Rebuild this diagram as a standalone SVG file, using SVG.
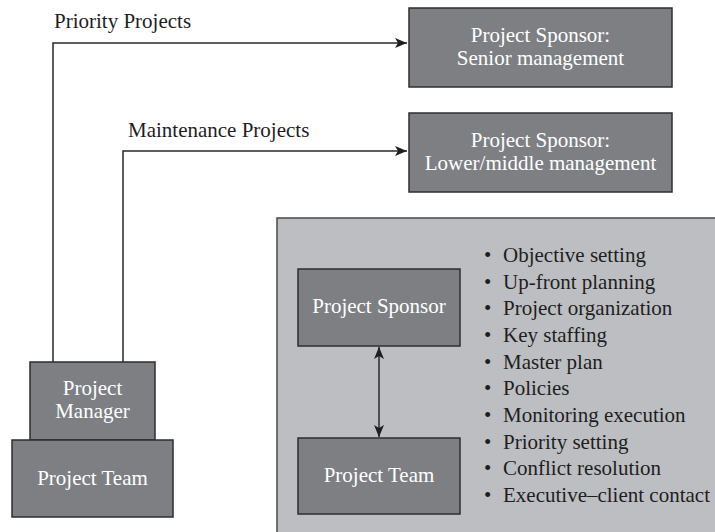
<svg xmlns="http://www.w3.org/2000/svg" width="715" height="532" viewBox="0 0 715 532">
<style>
.box{fill:#7e7f83;stroke:#2e2e30;stroke-width:1.5}
.panel{fill:#bdbec1;stroke:#4a4a4c;stroke-width:1.5}
.wt{font-family:"Liberation Serif","Times New Roman",serif;font-size:21px;fill:#ffffff;text-anchor:middle}
.bt{font-family:"Liberation Serif","Times New Roman",serif;font-size:21px;fill:#1e1e1e}
.ln{fill:none;stroke:#2a2a2a;stroke-width:1.5}
</style>
<defs>
<marker id="ah" viewBox="0 0 12 10" refX="12" refY="5" markerWidth="12" markerHeight="10" markerUnits="userSpaceOnUse" orient="auto-start-reverse">
<path d="M0,0 L12,5 L0,10 L3,5 Z" fill="#1e1e1e"/>
</marker>
</defs>
<rect x="0" y="0" width="715" height="532" fill="#ffffff"/>
<g id="panel">
<rect class="panel" x="277" y="218" width="445" height="322"/>
</g>
<g id="connectors">
<path class="ln" d="M53,362 V43 H407" marker-end="url(#ah)"/>
<path class="ln" d="M123,362 V151 H407" marker-end="url(#ah)"/>
<path class="ln" d="M379,347 V437" marker-start="url(#ah)" marker-end="url(#ah)"/>
</g>
<g id="label-priority"><text class="bt" x="54" y="28">Priority Projects</text></g>
<g id="label-maintenance"><text class="bt" x="128" y="137">Maintenance Projects</text></g>
<g id="sponsor-senior">
<rect class="box" x="409" y="8" width="263" height="79"/>
<text class="wt" x="540.5" y="42">Project Sponsor:</text>
<text class="wt" x="540.5" y="65">Senior management</text>
</g>
<g id="sponsor-lower">
<rect class="box" x="409" y="113" width="263" height="79"/>
<text class="wt" x="540.5" y="147">Project Sponsor:</text>
<text class="wt" x="540.5" y="170">Lower/middle management</text>
</g>
<g id="project-manager">
<rect class="box" x="30" y="362" width="125" height="78"/>
<text class="wt" x="92.5" y="395">Project</text>
<text class="wt" x="92.5" y="418">Manager</text>
</g>
<g id="project-team-left">
<rect class="box" x="12" y="440" width="161" height="77"/>
<text class="wt" x="92.5" y="485">Project Team</text>
</g>
<g id="inner-sponsor">
<rect class="box" x="298" y="269" width="162" height="77"/>
<text class="wt" x="379" y="313">Project Sponsor</text>
</g>
<g id="inner-team">
<rect class="box" x="298" y="438" width="162" height="76"/>
<text class="wt" x="379" y="482">Project Team</text>
</g>
<g id="list">
<text class="bt" x="484" y="262">•</text><text class="bt" x="503" y="262">Objective setting</text>
<text class="bt" x="484" y="288.7">•</text><text class="bt" x="503" y="288.7">Up-front planning</text>
<text class="bt" x="484" y="315.3">•</text><text class="bt" x="503" y="315.3">Project organization</text>
<text class="bt" x="484" y="342">•</text><text class="bt" x="503" y="342">Key staffing</text>
<text class="bt" x="484" y="368.7">•</text><text class="bt" x="503" y="368.7">Master plan</text>
<text class="bt" x="484" y="395.3">•</text><text class="bt" x="503" y="395.3">Policies</text>
<text class="bt" x="484" y="422">•</text><text class="bt" x="503" y="422">Monitoring execution</text>
<text class="bt" x="484" y="448.7">•</text><text class="bt" x="503" y="448.7">Priority setting</text>
<text class="bt" x="484" y="475.3">•</text><text class="bt" x="503" y="475.3">Conflict resolution</text>
<text class="bt" x="484" y="502">•</text><text class="bt" x="503" y="502">Executive–client contact</text>
</g>
</svg>
